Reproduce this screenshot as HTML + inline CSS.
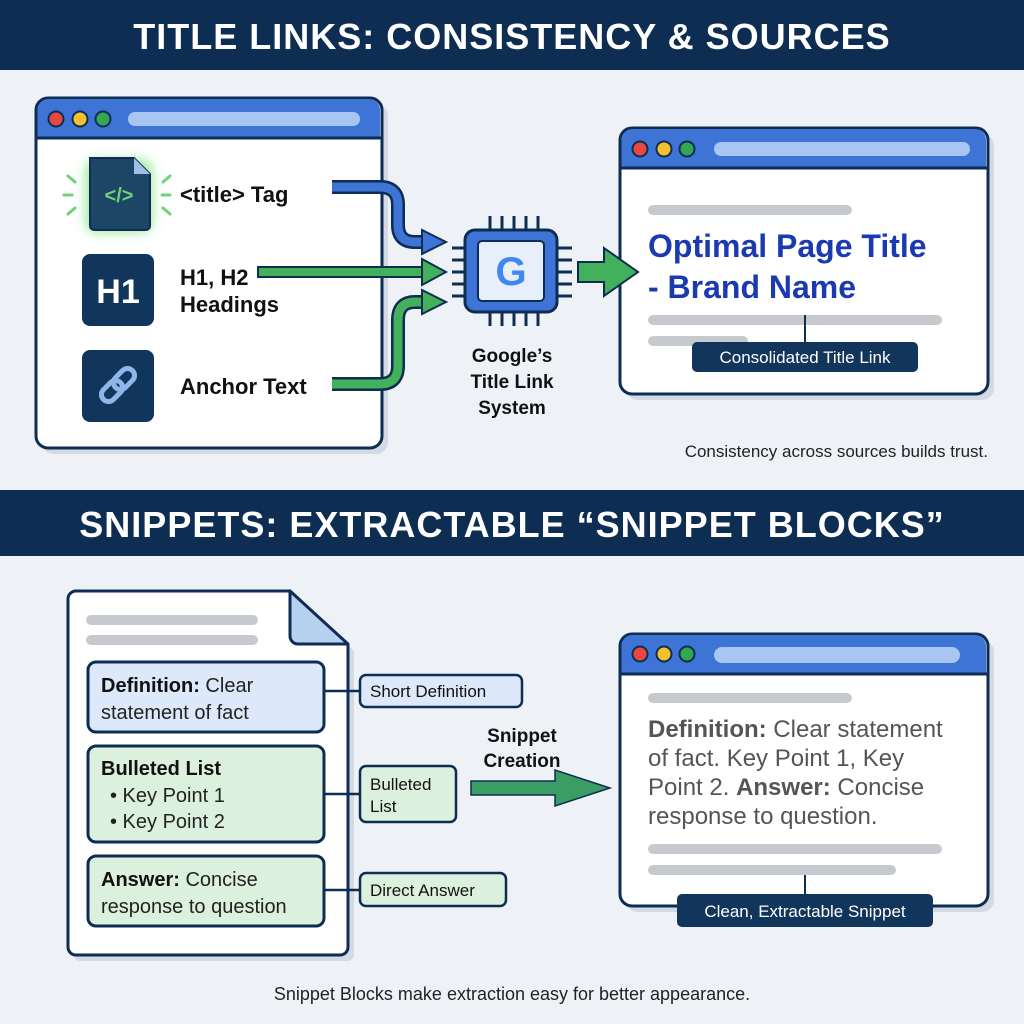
<!DOCTYPE html>
<html><head><meta charset="utf-8"><style>
html,body{margin:0;padding:0;background:#eef2f7}
svg{display:block}
text{font-family:"Liberation Sans",sans-serif}
</style></head><body>
<svg width="1024" height="1024" viewBox="0 0 1024 1024" xmlns="http://www.w3.org/2000/svg">
<defs>
<filter id="glow" x="-50%" y="-50%" width="200%" height="200%"><feGaussianBlur stdDeviation="6"/></filter>
</defs>
<rect width="1024" height="1024" fill="#eef2f7"/>
<!-- Header 1 -->
<rect x="0" y="0" width="1024" height="70" fill="#0e2d52"/>
<text x="512" y="49" text-anchor="middle" font-size="36" font-weight="bold" fill="#fff" letter-spacing="1">TITLE LINKS: CONSISTENCY &amp; SOURCES</text>

<!-- Left window -->
<rect x="42" y="104" width="346" height="350" rx="12" fill="#d3dae4"/>
<rect x="36" y="98" width="346" height="350" rx="12" fill="#fff" stroke="#0e2d52" stroke-width="3"/>
<path d="M37.5 138 V110 a11 11 0 0 1 11 -11 H369 a11 11 0 0 1 11 11 V138 Z" fill="#3d74d6"/>
<line x1="37" y1="138" x2="381" y2="138" stroke="#0e2d52" stroke-width="3"/>
<circle cx="56" cy="119" r="7.5" fill="#e8483f" stroke="#0e2d52" stroke-width="2"/>
<circle cx="80" cy="119" r="7.5" fill="#f6c02c" stroke="#0e2d52" stroke-width="2"/>
<circle cx="103" cy="119" r="7.5" fill="#33a852" stroke="#0e2d52" stroke-width="2"/>
<rect x="128" y="112" width="232" height="14" rx="7" fill="#a9c6f2"/>

<!-- title tag icon -->
<rect x="86" y="160" width="66" height="72" rx="10" fill="#7de07e" filter="url(#glow)" opacity="0.8"/>
<path d="M90 158 H134 L150 174 V226 a4 4 0 0 1 -4 4 H94 a4 4 0 0 1 -4 -4 Z" fill="#1d4566" stroke="#0e2d52" stroke-width="2"/>
<path d="M134 158 V174 H150 Z" fill="#9fc0ea"/>
<text x="119" y="202" text-anchor="middle" font-size="20" font-weight="bold" fill="#6fd37a">&lt;/&gt;</text>
<g stroke="#6fd37a" stroke-width="3" stroke-linecap="round">
<line x1="64" y1="195" x2="72" y2="195"/><line x1="68" y1="176" x2="75" y2="182"/><line x1="68" y1="214" x2="75" y2="208"/>
<line x1="162" y1="195" x2="170" y2="195"/><line x1="163" y1="182" x2="170" y2="176"/><line x1="163" y1="208" x2="170" y2="214"/>
</g>
<text x="180" y="202" font-size="22" font-weight="bold" fill="#111">&lt;title&gt; Tag</text>

<rect x="82" y="254" width="72" height="72" rx="8" fill="#12355c"/>
<text x="118" y="303" text-anchor="middle" font-size="34" font-weight="bold" fill="#fff">H1</text>
<text x="180" y="285" font-size="22" font-weight="bold" fill="#111">H1, H2</text>
<text x="180" y="312" font-size="22" font-weight="bold" fill="#111">Headings</text>

<rect x="82" y="350" width="72" height="72" rx="8" fill="#12355c"/>
<g fill="none" stroke="#8fb6ea" stroke-width="5" stroke-linecap="round">
<rect x="100" y="384" width="24" height="14" rx="7" transform="rotate(-45 112 391)"/>
<rect x="112" y="372" width="24" height="14" rx="7" transform="rotate(-45 124 379)"/>
</g>
<text x="180" y="394" font-size="22" font-weight="bold" fill="#111">Anchor Text</text>

<!-- arrows to chip -->
<path d="M332 187 H380 Q398 187 398 205 V225 Q398 242 415 242 H425" fill="none" stroke="#0e2d52" stroke-width="14"/>
<path d="M332 187 H380 Q398 187 398 205 V225 Q398 242 415 242 H425" fill="none" stroke="#3d74d6" stroke-width="9"/>
<path d="M422 230 L446 242 L422 254 Z" fill="#3d74d6" stroke="#0e2d52" stroke-width="2"/>
<rect x="258" y="267" width="168" height="10" fill="#43b05c" stroke="#0e2d52" stroke-width="2"/>
<path d="M422 259 L446 272 L422 285 Z" fill="#43b05c" stroke="#0e2d52" stroke-width="2"/>
<path d="M332 384 H380 Q398 384 398 366 V320 Q398 302 415 302 H425" fill="none" stroke="#0e2d52" stroke-width="14"/>
<path d="M332 384 H380 Q398 384 398 366 V320 Q398 302 415 302 H425" fill="none" stroke="#43b05c" stroke-width="9"/>
<path d="M422 290 L446 302 L422 314 Z" fill="#43b05c" stroke="#0e2d52" stroke-width="2"/>

<!-- chip -->
<g stroke="#0e2d52" stroke-width="3">
<line x1="490" y1="216" x2="490" y2="232"/><line x1="502" y1="216" x2="502" y2="232"/><line x1="514" y1="216" x2="514" y2="232"/><line x1="526" y1="216" x2="526" y2="232"/><line x1="538" y1="216" x2="538" y2="232"/>
<line x1="490" y1="310" x2="490" y2="326"/><line x1="502" y1="310" x2="502" y2="326"/><line x1="514" y1="310" x2="514" y2="326"/><line x1="526" y1="310" x2="526" y2="326"/><line x1="538" y1="310" x2="538" y2="326"/>
<line x1="452" y1="248" x2="470" y2="248"/><line x1="452" y1="260" x2="470" y2="260"/><line x1="452" y1="272" x2="470" y2="272"/><line x1="452" y1="284" x2="470" y2="284"/><line x1="452" y1="296" x2="470" y2="296"/>
<line x1="554" y1="248" x2="572" y2="248"/><line x1="554" y1="260" x2="572" y2="260"/><line x1="554" y1="272" x2="572" y2="272"/><line x1="554" y1="284" x2="572" y2="284"/><line x1="554" y1="296" x2="572" y2="296"/>
</g>
<rect x="465" y="230" width="92" height="82" rx="10" fill="#3d74d6" stroke="#0e2d52" stroke-width="3"/>
<rect x="478" y="241" width="66" height="60" rx="4" fill="#e7effb" stroke="#0e2d52" stroke-width="2"/>
<text x="511" y="285" text-anchor="middle" font-size="40" font-weight="bold" fill="#4285f4">G</text>
<text x="512" y="362" text-anchor="middle" font-size="19" font-weight="bold" fill="#111">Google’s</text>
<text x="512" y="388" text-anchor="middle" font-size="19" font-weight="bold" fill="#111">Title Link</text>
<text x="512" y="414" text-anchor="middle" font-size="19" font-weight="bold" fill="#111">System</text>

<!-- right window 1 -->
<rect x="626" y="134" width="368" height="266" rx="12" fill="#d3dae4"/>
<rect x="620" y="128" width="368" height="266" rx="12" fill="#fff" stroke="#0e2d52" stroke-width="3"/>
<path d="M621.5 168 V140 a11 11 0 0 1 11 -11 H975 a11 11 0 0 1 11 11 V168 Z" fill="#3d74d6"/>
<line x1="621" y1="168" x2="987" y2="168" stroke="#0e2d52" stroke-width="3"/>
<circle cx="640" cy="149" r="7.5" fill="#e8483f" stroke="#0e2d52" stroke-width="2"/>
<circle cx="664" cy="149" r="7.5" fill="#f6c02c" stroke="#0e2d52" stroke-width="2"/>
<circle cx="687" cy="149" r="7.5" fill="#33a852" stroke="#0e2d52" stroke-width="2"/>
<rect x="714" y="142" width="256" height="14" rx="7" fill="#a9c6f2"/>
<rect x="648" y="205" width="204" height="10" rx="5" fill="#c6cacf"/>
<text x="648" y="257" font-size="32" font-weight="bold" fill="#1c3ab0">Optimal Page Title</text>
<text x="648" y="298" font-size="32" font-weight="bold" fill="#1c3ab0">- Brand Name</text>
<rect x="648" y="315" width="294" height="10" rx="5" fill="#c6cacf"/>
<rect x="648" y="336" width="100" height="10" rx="5" fill="#c6cacf"/>
<line x1="805" y1="315" x2="805" y2="343" stroke="#0e2d52" stroke-width="2"/>
<rect x="692" y="342" width="226" height="30" rx="5" fill="#12355c"/>
<text x="805" y="363" text-anchor="middle" font-size="17" fill="#fff">Consolidated Title Link</text>
<text x="988" y="457" text-anchor="end" font-size="17" fill="#222">Consistency across sources builds trust.</text>

<path d="M578 262 H604 V248 L638 272 L604 296 V282 H578 Z" fill="#43b05c" stroke="#0e2d52" stroke-width="2"/>

<!-- Header 2 -->
<rect x="0" y="490" width="1024" height="66" fill="#0e2d52"/>
<text x="512" y="537" text-anchor="middle" font-size="36" font-weight="bold" fill="#fff" letter-spacing="1">SNIPPETS: EXTRACTABLE “SNIPPET BLOCKS”</text>

<!-- document -->
<path d="M74 597 H296 L354 651 V955 a6 6 0 0 1 -6 6 H80 a6 6 0 0 1 -6 -6 Z" fill="#d3dae4"/>
<path d="M76 591 H290 L348 645 V947 a8 8 0 0 1 -8 8 H76 a8 8 0 0 1 -8 -8 V599 a8 8 0 0 1 8 -8 Z" fill="#fff" stroke="#0e2d52" stroke-width="3"/>
<path d="M290 591 V636 a8 8 0 0 0 8 8 H348 Z" fill="#b7d0f0" stroke="#0e2d52" stroke-width="3" stroke-linejoin="round"/>
<rect x="86" y="615" width="172" height="10" rx="5" fill="#c6cacf"/>
<rect x="86" y="635" width="172" height="10" rx="5" fill="#c6cacf"/>

<rect x="88" y="662" width="236" height="70" rx="8" fill="#dde9fa" stroke="#0e2d52" stroke-width="3"/>
<text x="101" y="692" font-size="20" fill="#222"><tspan font-weight="bold" fill="#111">Definition:</tspan> Clear</text>
<text x="101" y="719" font-size="20" fill="#222">statement of fact</text>
<rect x="88" y="746" width="236" height="96" rx="8" fill="#dcf1dd" stroke="#0e2d52" stroke-width="3"/>
<text x="101" y="775" font-size="20" font-weight="bold" fill="#111">Bulleted List</text>
<text x="110" y="802" font-size="20" fill="#222">• Key Point 1</text>
<text x="110" y="828" font-size="20" fill="#222">• Key Point 2</text>
<rect x="88" y="856" width="236" height="70" rx="8" fill="#dcf1dd" stroke="#0e2d52" stroke-width="3"/>
<text x="101" y="886" font-size="20" fill="#222"><tspan font-weight="bold" fill="#111">Answer:</tspan> Concise</text>
<text x="101" y="913" font-size="20" fill="#222">response to question</text>

<g stroke="#0e2d52" stroke-width="2.5">
<line x1="324" y1="691" x2="360" y2="691"/><line x1="324" y1="794" x2="360" y2="794"/><line x1="324" y1="890" x2="360" y2="890"/>
</g>
<rect x="360" y="675" width="162" height="32" rx="6" fill="#dde9fa" stroke="#0e2d52" stroke-width="2.5"/>
<text x="370" y="697" font-size="17" fill="#111">Short Definition</text>
<rect x="360" y="766" width="96" height="56" rx="6" fill="#dcf1dd" stroke="#0e2d52" stroke-width="2.5"/>
<text x="370" y="790" font-size="17" fill="#111">Bulleted</text>
<text x="370" y="812" font-size="17" fill="#111">List</text>
<rect x="360" y="873" width="146" height="33" rx="6" fill="#dcf1dd" stroke="#0e2d52" stroke-width="2.5"/>
<text x="370" y="896" font-size="17" fill="#111">Direct Answer</text>

<text x="522" y="742" text-anchor="middle" font-size="19" font-weight="bold" fill="#111">Snippet</text>
<text x="522" y="767" text-anchor="middle" font-size="19" font-weight="bold" fill="#111">Creation</text>
<path d="M471 781 H555 V770 L610 788 L555 806 V795 H471 Z" fill="#3a9d63" stroke="#0e2d52" stroke-width="1.5"/>

<!-- right window 2 -->
<rect x="626" y="640" width="368" height="272" rx="12" fill="#d3dae4"/>
<rect x="620" y="634" width="368" height="272" rx="12" fill="#fff" stroke="#0e2d52" stroke-width="3"/>
<path d="M621.5 674 V646 a11 11 0 0 1 11 -11 H975 a11 11 0 0 1 11 11 V674 Z" fill="#3d74d6"/>
<line x1="621" y1="674" x2="987" y2="674" stroke="#0e2d52" stroke-width="3"/>
<circle cx="640" cy="654" r="7.5" fill="#e8483f" stroke="#0e2d52" stroke-width="2"/>
<circle cx="664" cy="654" r="7.5" fill="#f6c02c" stroke="#0e2d52" stroke-width="2"/>
<circle cx="687" cy="654" r="7.5" fill="#33a852" stroke="#0e2d52" stroke-width="2"/>
<rect x="714" y="647" width="246" height="16" rx="8" fill="#a9c6f2"/>
<rect x="648" y="693" width="204" height="10" rx="5" fill="#c6cacf"/>
<g font-size="24" fill="#555">
<text x="648" y="737"><tspan font-weight="bold">Definition:</tspan> Clear statement</text>
<text x="648" y="766">of fact. Key Point 1, Key</text>
<text x="648" y="795">Point 2. <tspan font-weight="bold">Answer:</tspan> Concise</text>
<text x="648" y="824">response to question.</text>
</g>
<rect x="648" y="844" width="294" height="10" rx="5" fill="#c6cacf"/>
<rect x="648" y="865" width="248" height="10" rx="5" fill="#c6cacf"/>
<line x1="805" y1="875" x2="805" y2="896" stroke="#0e2d52" stroke-width="2"/>
<rect x="677" y="894" width="256" height="33" rx="5" fill="#12355c"/>
<text x="805" y="917" text-anchor="middle" font-size="17" fill="#fff">Clean, Extractable Snippet</text>

<text x="512" y="1000" text-anchor="middle" font-size="18" fill="#222">Snippet Blocks make extraction easy for better appearance.</text>
</svg>
</body></html>
